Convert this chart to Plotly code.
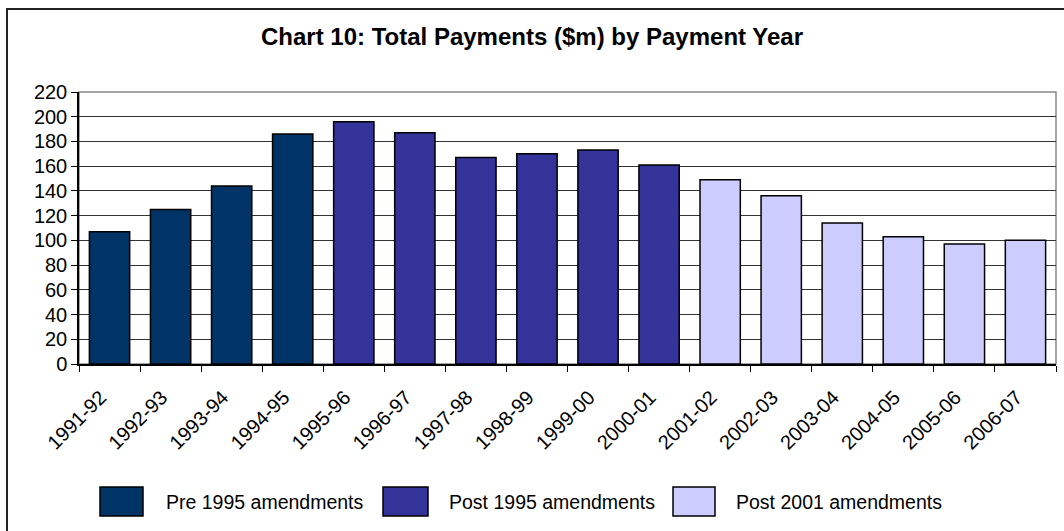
import plotly.graph_objects as go

years = ["1991-92", "1992-93", "1993-94", "1994-95", "1995-96", "1996-97", "1997-98", "1998-99",
         "1999-00", "2000-01", "2001-02", "2002-03", "2003-04", "2004-05", "2005-06", "2006-07"]

pre1995_years = years[0:4]
pre1995_values = [107, 125, 144, 186]

post1995_years = years[4:10]
post1995_values = [196, 187, 167, 170, 173, 161]

post2001_years = years[10:16]
post2001_values = [149, 136, 114, 103, 97, 100]

series_names = ["Pre 1995 amendments", "Post 1995 amendments", "Post 2001 amendments"]
series_colors = ["#003366", "#333399", "#CCCCFF"]
y_ticks = list(range(0, 221, 20))

FONT = "Liberation Sans, Arial, sans-serif"

fig = go.Figure()
for name, xs, ys, col in zip(series_names,
                             [pre1995_years, post1995_years, post2001_years],
                             [pre1995_values, post1995_values, post2001_values],
                             series_colors):
    fig.add_trace(go.Bar(x=xs, y=ys, name=name, marker=dict(color=col, line=dict(color="black", width=1.5)),
                         showlegend=False))

# Outer chart border
fig.add_shape(type="rect", xref="paper", yref="paper", x0=(7 - 79) / 977, x1=1.05, y0=-0.7, y1=(364 - 9) / 272,
              line=dict(color="#222222", width=2), fillcolor="rgba(0,0,0,0)", layer="below")

# Custom legend
box_x = [(100, 143), (383, 428), (673, 715)]
text_x = [164, 447, 734]
for (bx0, bx1), tx, name, col in zip(box_x, text_x, series_names, series_colors):
    fig.add_shape(type="rect", xref="paper", yref="paper",
                  x0=(bx0 - 79) / 977, x1=(bx1 - 79) / 977,
                  y0=(364 - 516) / 272, y1=(364 - 487) / 272,
                  fillcolor=col, line=dict(color="black", width=1.5))
    fig.add_annotation(xref="paper", yref="paper", x=(tx - 79) / 977, y=(364 - 502) / 272,
                       text=name, showarrow=False, xanchor="left", yanchor="middle",
                       font=dict(family=FONT, size=19.5, color="black"))

fig.update_layout(
    width=1064, height=531,
    margin=dict(l=79, r=8, t=92, b=167),
    paper_bgcolor="white", plot_bgcolor="white",
    barmode="relative", bargap=0.34,
    title=dict(text="<b>Chart 10: Total Payments ($m) by Payment Year</b>", x=0.5, xanchor="center",
               y=1 - 37 / 531, yanchor="middle", font=dict(family=FONT, size=24, color="black")),
    font=dict(family=FONT, size=20, color="black"),
)
fig.update_xaxes(categoryorder="array", categoryarray=years, tickangle=-45, tickson="boundaries",
                 ticks="outside", ticklen=6, tickcolor="black", showline=True, linecolor="black", linewidth=1.5,
                 mirror=False, showgrid=False, ticklabelstandoff=12, ticklabelshift=-9,
                 tickfont=dict(family=FONT, size=20, color="black"))
fig.update_yaxes(range=[0, 220], tickvals=y_ticks, ticks="outside", ticklen=6, tickcolor="black",
                 showline=True, linecolor="black", linewidth=1.5, showgrid=True, gridcolor="#333333",
                 gridwidth=1.2, zeroline=False, tickfont=dict(family=FONT, size=20, color="black"))
# Plot area border (gray top/right)
fig.add_shape(type="rect", xref="paper", yref="paper", x0=0, x1=1, y0=0, y1=1,
              line=dict(color="#888888", width=1.5), fillcolor="rgba(0,0,0,0)", layer="below")

fig.write_html("out.html", config={"displayModeBar": False},
               post_script="document.body.style.margin='0';document.body.style.overflow='hidden';")
